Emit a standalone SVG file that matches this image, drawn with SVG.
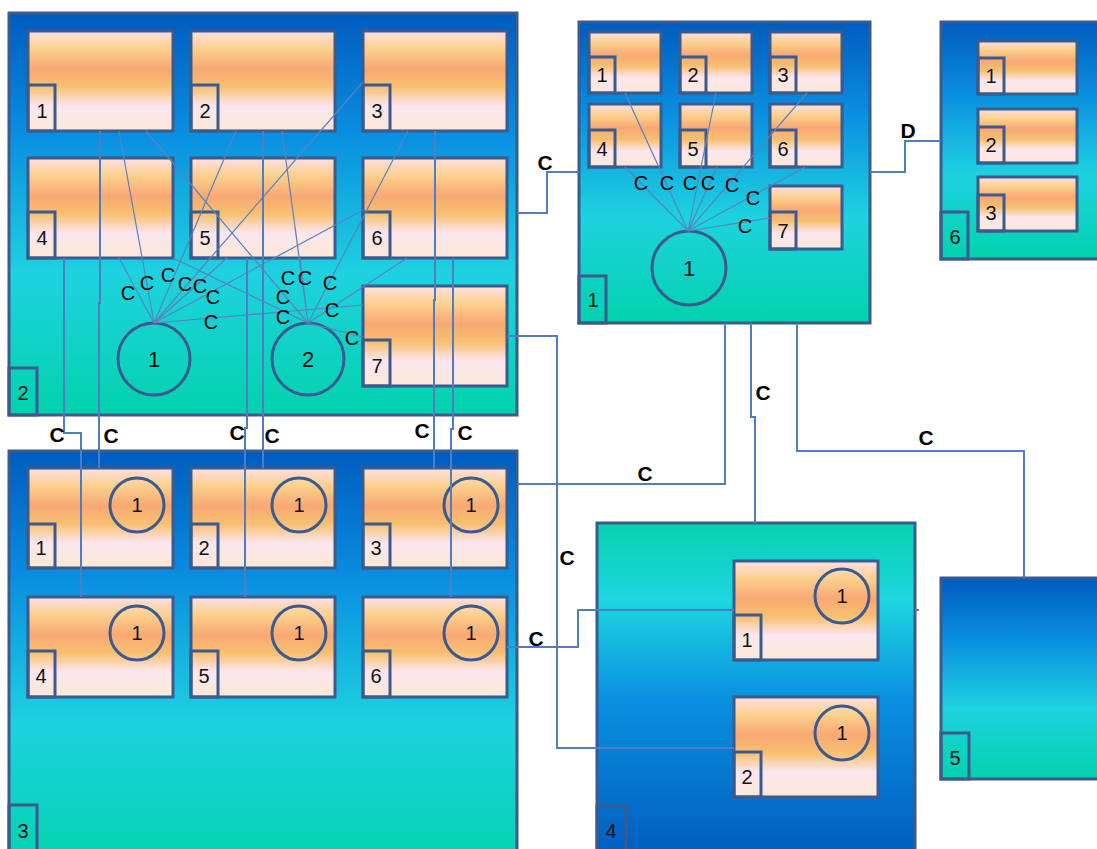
<svg xmlns="http://www.w3.org/2000/svg" width="1097" height="849" viewBox="0 0 1097 849">
<defs>
<linearGradient id="gBT" x1="0" y1="0" x2="0" y2="1">
<stop offset="0" stop-color="#005cbf"/><stop offset="0.3" stop-color="#0a8ee0"/><stop offset="0.65" stop-color="#1ed2e0"/><stop offset="1" stop-color="#02d2ac"/>
</linearGradient>
<linearGradient id="gTB" x1="0" y1="0" x2="0" y2="1">
<stop offset="0" stop-color="#06d2b0"/><stop offset="0.22" stop-color="#1ed6e0"/><stop offset="0.5" stop-color="#0a92e0"/><stop offset="1" stop-color="#0058bc"/>
</linearGradient>
<linearGradient id="gBlk" x1="0" y1="0" x2="0" y2="1">
<stop offset="0" stop-color="#fde0e4"/><stop offset="0.18" stop-color="#fcd08c"/><stop offset="0.38" stop-color="#f8a874"/><stop offset="0.56" stop-color="#f8c070"/><stop offset="0.75" stop-color="#fce6f0"/><stop offset="1" stop-color="#fbe8d4"/>
</linearGradient>
<style>
.cont{stroke:#3b5b8e;stroke-width:3}
.blk{fill:url(#gBlk);stroke:#3b5b8e;stroke-width:3}
.lbl{fill:none;stroke:#3b5b8e;stroke-width:3}
.circ{fill:none;stroke:#3b5b8e;stroke-width:3}
.t{font-family:'Liberation Sans',Arial,sans-serif;font-size:20px;fill:#111;text-anchor:middle}
.tc{font-family:'Liberation Sans',Arial,sans-serif;font-size:20px;fill:#000;text-anchor:middle}
.tn{font-family:'Liberation Sans',Arial,sans-serif;font-size:22px;fill:#111;text-anchor:middle}
.tb{font-family:'Liberation Sans',Arial,sans-serif;font-size:21px;font-weight:bold;fill:#000;text-anchor:middle}
.conn{fill:none;stroke:#4f7dbf;stroke-width:2}
.fan{fill:none;stroke:#5a82c0;stroke-width:1.2}
</style>
</defs>

<!-- Container 2 -->
<g id="c2">
<rect class="cont" x="9" y="13" width="508" height="402" fill="url(#gBT)"/>
<rect class="lbl" x="9" y="368" width="28" height="47"/><text class="t" x="23" y="400">2</text>
<g id="c2b1"><rect class="blk" x="28" y="31" width="145" height="100"/><rect class="lbl" x="28" y="85" width="27" height="46"/><text class="t" x="42" y="118">1</text></g>
<g id="c2b2"><rect class="blk" x="191" y="31" width="144" height="100"/><rect class="lbl" x="191" y="85" width="27" height="46"/><text class="t" x="205" y="118">2</text></g>
<g id="c2b3"><rect class="blk" x="363" y="31" width="144" height="100"/><rect class="lbl" x="363" y="85" width="27" height="46"/><text class="t" x="377" y="118">3</text></g>
<g id="c2b4"><rect class="blk" x="28" y="158" width="145" height="100"/><rect class="lbl" x="28" y="212" width="27" height="46"/><text class="t" x="42" y="245">4</text></g>
<g id="c2b5"><rect class="blk" x="191" y="158" width="144" height="100"/><rect class="lbl" x="191" y="212" width="27" height="46"/><text class="t" x="205" y="245">5</text></g>
<g id="c2b6"><rect class="blk" x="363" y="158" width="144" height="100"/><rect class="lbl" x="363" y="212" width="27" height="46"/><text class="t" x="377" y="245">6</text></g>
<g id="c2b7"><rect class="blk" x="363" y="286" width="144" height="100"/><rect class="lbl" x="363" y="340" width="27" height="46"/><text class="t" x="377" y="373">7</text></g>
<g id="c2n1"><circle class="circ" cx="154" cy="359" r="36"/><text class="tn" x="154" y="367">1</text></g>
<g id="c2n2"><circle class="circ" cx="308" cy="359" r="36"/><text class="tn" x="308" y="367">2</text></g>
</g>

<!-- Container 1 -->
<g id="c1">
<rect class="cont" x="579" y="22" width="291" height="301" fill="url(#gBT)"/>
<rect class="lbl" x="579" y="276" width="27" height="47"/><text class="t" x="593" y="307">1</text>
<g id="c1b1"><rect class="blk" x="589" y="32" width="72" height="61"/><rect class="lbl" x="589" y="57" width="26" height="36"/><text class="t" x="602" y="82">1</text></g>
<g id="c1b2"><rect class="blk" x="680" y="32" width="72" height="61"/><rect class="lbl" x="680" y="57" width="26" height="36"/><text class="t" x="693" y="82">2</text></g>
<g id="c1b3"><rect class="blk" x="770" y="32" width="72" height="61"/><rect class="lbl" x="770" y="57" width="26" height="36"/><text class="t" x="783" y="82">3</text></g>
<g id="c1b4"><rect class="blk" x="589" y="104" width="72" height="63"/><rect class="lbl" x="589" y="130" width="26" height="37"/><text class="t" x="602" y="156">4</text></g>
<g id="c1b5"><rect class="blk" x="680" y="104" width="72" height="63"/><rect class="lbl" x="680" y="130" width="26" height="37"/><text class="t" x="693" y="156">5</text></g>
<g id="c1b6"><rect class="blk" x="770" y="104" width="72" height="63"/><rect class="lbl" x="770" y="130" width="26" height="37"/><text class="t" x="783" y="156">6</text></g>
<g id="c1b7"><rect class="blk" x="770" y="186" width="72" height="63"/><rect class="lbl" x="770" y="212" width="26" height="37"/><text class="t" x="783" y="238">7</text></g>
<g id="c1n1"><circle class="circ" cx="689" cy="268" r="37"/><text class="tn" x="689" y="276">1</text></g>
</g>

<!-- Container 6 -->
<g id="c6">
<rect class="cont" x="941" y="22" width="170" height="237" fill="url(#gBT)"/>
<rect class="lbl" x="941" y="212" width="27" height="47"/><text class="t" x="955" y="244">6</text>
<g id="c6b1"><rect class="blk" x="978" y="41" width="99" height="53"/><rect class="lbl" x="978" y="58" width="26" height="36"/><text class="t" x="991" y="83">1</text></g>
<g id="c6b2"><rect class="blk" x="978" y="109" width="99" height="54"/><rect class="lbl" x="978" y="127" width="26" height="36"/><text class="t" x="991" y="152">2</text></g>
<g id="c6b3"><rect class="blk" x="978" y="177" width="99" height="54"/><rect class="lbl" x="978" y="195" width="26" height="36"/><text class="t" x="991" y="220">3</text></g>
</g>

<!-- Container 3 -->
<g id="c3">
<rect class="cont" x="9" y="451" width="508" height="420" fill="url(#gBT)"/>
<rect class="lbl" x="9" y="805" width="28" height="60"/><text class="t" x="23" y="838">3</text>
<g id="c3b1"><rect class="blk" x="28" y="468" width="145" height="100"/><rect class="lbl" x="28" y="524" width="27" height="44"/><text class="t" x="41" y="555">1</text><circle class="circ" cx="137" cy="505" r="27"/><text class="t" x="137" y="512">1</text></g>
<g id="c3b2"><rect class="blk" x="191" y="468" width="144" height="100"/><rect class="lbl" x="191" y="524" width="27" height="44"/><text class="t" x="204" y="555">2</text><circle class="circ" cx="299" cy="505" r="27"/><text class="t" x="299" y="512">1</text></g>
<g id="c3b3"><rect class="blk" x="363" y="468" width="144" height="100"/><rect class="lbl" x="363" y="524" width="27" height="44"/><text class="t" x="376" y="555">3</text><circle class="circ" cx="471" cy="505" r="27"/><text class="t" x="471" y="512">1</text></g>
<g id="c3b4"><rect class="blk" x="28" y="597" width="145" height="100"/><rect class="lbl" x="28" y="651" width="27" height="46"/><text class="t" x="41" y="683">4</text><circle class="circ" cx="137" cy="633" r="27"/><text class="t" x="137" y="640">1</text></g>
<g id="c3b5"><rect class="blk" x="191" y="597" width="144" height="100"/><rect class="lbl" x="191" y="651" width="27" height="46"/><text class="t" x="204" y="683">5</text><circle class="circ" cx="299" cy="633" r="27"/><text class="t" x="299" y="640">1</text></g>
<g id="c3b6"><rect class="blk" x="363" y="597" width="144" height="100"/><rect class="lbl" x="363" y="651" width="27" height="46"/><text class="t" x="376" y="683">6</text><circle class="circ" cx="471" cy="633" r="27"/><text class="t" x="471" y="640">1</text></g>
</g>

<!-- Container 4 -->
<g id="c4">
<rect class="cont" x="597" y="523" width="318" height="348" fill="url(#gTB)"/>
<rect class="lbl" x="597" y="806" width="29" height="60"/><text class="t" x="611" y="838">4</text>
<g id="c4b1"><rect class="blk" x="734" y="561" width="144" height="99"/><rect class="lbl" x="734" y="615" width="27" height="45"/><text class="t" x="747" y="647">1</text><circle class="circ" cx="842" cy="596" r="27"/><text class="t" x="842" y="603">1</text></g>
<g id="c4b2"><rect class="blk" x="734" y="697" width="144" height="100"/><rect class="lbl" x="734" y="752" width="27" height="45"/><text class="t" x="747" y="784">2</text><circle class="circ" cx="842" cy="733" r="27"/><text class="t" x="842" y="740">1</text></g>
</g>

<!-- Container 5 -->
<g id="c5">
<rect class="cont" x="941" y="578" width="170" height="201" fill="url(#gBT)"/>
<rect class="lbl" x="941" y="733" width="28" height="46"/><text class="t" x="955" y="765">5</text>
</g>

<!-- Connectors -->
<g id="connectors">
<path class="fan" d="M119,131 L154,323 M236,131 L154,323 M363,82 L154,323 M119,258 L154,323 M227,258 L154,323 M363,210 L154,323 M363,305 L154,323"/>
<path class="fan" d="M146,131 L308,323 M282,131 L308,323 M408,131 L308,323 M173,258 L308,323 M300,258 L308,323 M407,258 L308,323 M363,337 L308,323"/>
<path class="fan" d="M625,93 L688,231 M625,167 L688,231 M716,93 L688,231 M717,167 L688,231 M807,93 L688,231 M805,167 L688,231 M770,218 L688,231"/>
<path class="conn" d="M64,258 V433 H81 V597"/>
<path class="conn" d="M100,131 V303 H99 V468"/>
<path class="conn" d="M247,258 V428 H245 V597"/>
<path class="conn" d="M263,131 V468"/>
<path class="conn" d="M435,131 V300 H434 V468"/>
<path class="conn" d="M453,258 V429 H451 V597"/>
<path class="conn" d="M517,213 H547 V172 H579"/>
<path class="conn" d="M870,172 H905 V141 H941"/>
<path class="conn" d="M725,323 V484 H517"/>
<path class="conn" d="M751,323 V417 H755 V523"/>
<path class="conn" d="M797,323 V451 H1024 V578"/>
<path class="conn" d="M507,336 H557 V748 H734"/>
<path class="conn" d="M507,647 H578 V610 H734"/>
<path class="conn" d="M915,610 H919"/>
</g>

<g id="labels">
<text class="tc" x="128" y="300">C</text>
<text class="tc" x="147" y="290">C</text>
<text class="tc" x="168" y="282">C</text>
<text class="tc" x="185" y="291">C</text>
<text class="tc" x="200" y="293">C</text>
<text class="tc" x="213" y="304">C</text>
<text class="tc" x="211" y="329">C</text>
<text class="tc" x="288" y="285">C</text>
<text class="tc" x="305" y="285">C</text>
<text class="tc" x="330" y="290">C</text>
<text class="tc" x="283" y="304">C</text>
<text class="tc" x="283" y="324">C</text>
<text class="tc" x="332" y="317">C</text>
<text class="tc" x="352" y="345">C</text>
<text class="tc" x="641" y="190">C</text>
<text class="tc" x="667" y="190">C</text>
<text class="tc" x="690" y="190">C</text>
<text class="tc" x="708" y="190">C</text>
<text class="tc" x="732" y="192">C</text>
<text class="tc" x="753" y="205">C</text>
<text class="tc" x="745" y="233">C</text>
<text class="tb" x="57" y="442">C</text>
<text class="tb" x="111" y="443">C</text>
<text class="tb" x="237" y="440">C</text>
<text class="tb" x="272" y="443">C</text>
<text class="tb" x="422" y="438">C</text>
<text class="tb" x="465" y="440">C</text>
<text class="tb" x="545" y="170">C</text>
<text class="tb" x="908" y="138">D</text>
<text class="tb" x="645" y="481">C</text>
<text class="tb" x="763" y="400">C</text>
<text class="tb" x="926" y="445">C</text>
<text class="tb" x="567" y="565">C</text>
<text class="tb" x="536" y="646">C</text>
</g>
</svg>
